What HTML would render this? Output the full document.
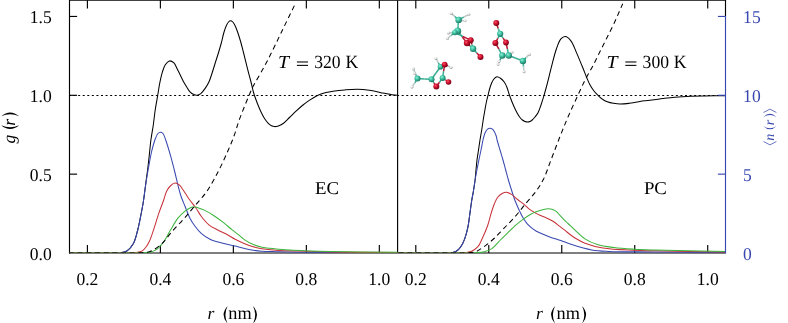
<!DOCTYPE html>
<html><head><meta charset="utf-8"><style>
html,body{margin:0;padding:0;background:#fff;}
body{width:788px;height:323px;overflow:hidden;font-family:"Liberation Serif",serif;}
svg{display:block;will-change:transform;text-rendering:geometricPrecision;}
</style></head><body>
<svg width="788" height="323" viewBox="0 0 788 323">
<defs><clipPath id="cl"><rect x="69.50" y="0.50" width="328.10" height="252.50"/></clipPath>
<clipPath id="cr"><rect x="397.60" y="0.50" width="327.90" height="252.50"/></clipPath></defs>
<line x1="69.50" y1="95.5" x2="397.60" y2="95.5" stroke="#000" stroke-width="1.05" stroke-dasharray="2 2.57" stroke-dashoffset="0.5"/>
<line x1="397.60" y1="95.5" x2="725.50" y2="95.5" stroke="#000" stroke-width="1.05" stroke-dasharray="2 2.57" stroke-dashoffset="0.5"/>
<g stroke="#000" stroke-width="1.15" fill="none">
<path d="M69.00 0.20 H726.00" />
<path d="M69.00 253.00 H725.50" />
<path d="M69.50 0.00 V253.50" />
<path d="M397.60 0.50 V253.00" />
<path d="M725.50 0.00 V16.40" />
<path d="M87.40 253.00 V245.00 M87.40 0.20 V8.40"/>
<path d="M415.80 253.00 V245.00 M415.80 0.20 V8.40"/>
<path d="M160.38 253.00 V245.00 M160.38 0.20 V8.40"/>
<path d="M488.78 253.00 V245.00 M488.78 0.20 V8.40"/>
<path d="M233.36 253.00 V245.00 M233.36 0.20 V8.40"/>
<path d="M561.76 253.00 V245.00 M561.76 0.20 V8.40"/>
<path d="M306.34 253.00 V245.00 M306.34 0.20 V8.40"/>
<path d="M634.74 253.00 V245.00 M634.74 0.20 V8.40"/>
<path d="M379.32 253.00 V245.00 M379.32 0.20 V8.40"/>
<path d="M707.72 253.00 V245.00 M707.72 0.20 V8.40"/>
<path d="M69.50 174.15 H77.10"/>
<path d="M69.50 95.30 H77.10"/>
<path d="M69.50 16.45 H77.10"/>
</g>
<g clip-path="url(#cl)" fill="none" stroke-width="1.05" stroke-linejoin="round">
<path d="M60.00 253.00 C77.33 253.00 102.55 253.13 112.00 253.00 C115.54 252.95 116.86 253.12 119.30 252.80 C121.82 252.47 124.65 252.36 126.90 251.00 C129.43 249.47 131.68 246.55 133.40 243.50 C135.42 239.92 136.45 234.77 137.60 230.50 C138.69 226.47 139.33 222.90 140.20 218.60 C141.23 213.53 142.44 207.31 143.30 202.00 C144.08 197.14 144.63 192.28 145.20 188.00 C145.68 184.39 146.08 181.15 146.50 178.00 C146.88 175.18 147.21 173.08 147.60 170.00 C148.13 165.78 148.75 160.00 149.30 155.00 C149.85 150.00 150.23 144.99 150.90 140.00 C151.57 134.99 152.58 130.01 153.30 125.00 C154.02 120.01 154.46 114.96 155.20 110.00 C155.93 105.09 156.91 100.08 157.70 95.40 C158.43 91.07 158.98 86.94 159.80 82.90 C160.59 79.05 161.46 74.95 162.50 71.70 C163.34 69.09 164.01 66.66 165.30 64.80 C166.43 63.16 168.01 61.16 169.50 60.90 C170.83 60.67 172.46 61.58 173.70 62.70 C175.41 64.24 176.44 67.50 177.90 70.30 C179.65 73.65 181.70 78.37 183.40 81.50 C184.67 83.84 185.83 85.67 187.00 87.50 C188.02 89.10 188.82 90.69 190.00 91.90 C191.11 93.03 192.51 94.04 193.80 94.60 C194.91 95.09 196.07 95.43 197.20 95.30 C198.41 95.16 199.66 94.47 200.80 93.60 C202.22 92.51 203.53 90.68 204.80 88.90 C206.25 86.87 207.72 84.52 208.90 82.00 C210.19 79.26 211.07 76.09 212.10 73.00 C213.18 69.77 214.15 66.33 215.20 63.00 C216.25 59.66 217.38 56.34 218.40 53.00 C219.41 49.67 220.39 46.38 221.30 43.00 C222.23 39.55 222.96 35.63 223.90 32.50 C224.68 29.91 225.50 27.40 226.40 25.50 C227.06 24.09 227.69 22.82 228.50 22.00 C229.13 21.36 229.89 20.71 230.60 20.70 C231.32 20.69 232.14 21.35 232.80 22.00 C233.64 22.82 234.30 24.12 235.00 25.50 C235.92 27.30 236.75 29.61 237.60 32.00 C238.62 34.85 239.64 38.17 240.60 41.50 C241.65 45.14 242.50 48.69 243.60 53.00 C245.01 58.52 246.93 66.58 248.30 71.90 C249.30 75.79 250.12 78.56 251.00 82.00 C251.92 85.58 252.64 89.45 253.70 93.00 C254.72 96.44 255.97 99.82 257.20 103.00 C258.35 105.97 259.53 108.83 260.80 111.50 C261.97 113.97 263.16 116.44 264.50 118.50 C265.68 120.31 267.01 122.02 268.30 123.30 C269.35 124.34 270.38 125.25 271.50 125.80 C272.49 126.29 273.52 126.55 274.60 126.60 C275.77 126.65 277.04 126.40 278.30 126.00 C279.76 125.54 281.24 124.88 282.80 123.80 C284.92 122.34 287.29 119.61 289.50 117.50 C291.69 115.41 293.77 113.27 296.00 111.20 C298.27 109.10 300.62 106.91 303.00 105.00 C305.29 103.16 307.68 101.44 310.00 99.90 C312.17 98.46 314.50 97.02 316.50 96.00 C318.11 95.18 319.44 94.66 321.00 94.10 C322.61 93.52 324.18 93.04 326.00 92.60 C328.12 92.09 330.36 91.70 333.00 91.30 C336.42 90.78 340.82 90.25 344.80 89.90 C348.85 89.54 352.99 89.14 357.10 89.20 C361.23 89.27 365.38 89.69 369.50 90.30 C373.65 90.92 377.99 92.14 381.90 92.90 C385.38 93.58 388.93 94.29 391.80 94.70 C393.98 95.01 395.55 95.17 397.60 95.30 C399.91 95.45 402.53 95.43 405.00 95.50" stroke="#000"/>
<path d="M60.00 253.00 C77.33 253.00 102.55 253.13 112.00 253.00 C115.54 252.95 116.86 253.12 119.30 252.80 C121.82 252.47 124.65 252.36 126.90 251.00 C129.43 249.47 131.68 246.55 133.40 243.50 C135.42 239.92 136.45 234.77 137.60 230.50 C138.69 226.47 139.33 222.90 140.20 218.60 C141.23 213.53 142.44 207.31 143.30 202.00 C144.08 197.14 144.54 192.58 145.20 188.00 C145.84 183.58 146.52 179.05 147.20 175.00 C147.79 171.44 148.34 168.55 149.00 165.00 C149.75 160.95 150.50 156.23 151.50 152.00 C152.47 147.90 153.66 143.35 154.90 140.00 C155.84 137.46 156.72 134.76 157.90 133.50 C158.63 132.72 159.47 132.22 160.30 132.20 C161.17 132.18 162.22 132.68 163.00 133.50 C164.19 134.76 164.73 137.31 165.70 140.00 C167.23 144.23 169.31 151.35 170.80 156.60 C172.13 161.29 172.98 164.84 174.30 170.00 C176.11 177.04 178.47 188.37 180.60 195.00 C182.05 199.53 183.49 202.42 185.00 206.20 C186.55 210.09 188.00 214.48 189.80 218.00 C191.38 221.09 193.07 223.72 195.00 226.30 C196.88 228.82 198.77 231.18 201.20 233.30 C203.86 235.62 207.05 237.86 210.50 239.50 C214.22 241.26 218.75 242.19 222.90 243.30 C226.99 244.39 231.37 245.18 235.20 246.10 C238.58 246.91 241.60 247.79 244.70 248.50 C247.63 249.18 250.41 249.85 253.30 250.30 C256.18 250.75 258.75 250.97 262.00 251.20 C266.11 251.49 270.71 251.54 276.00 251.70 C282.93 251.91 289.30 252.14 300.00 252.30 C321.57 252.61 383.55 252.67 397.60 252.70 C401.47 252.71 402.53 252.70 405.00 252.70" stroke="#3848b0"/>
<path d="M60.00 253.00 C82.67 253.00 116.42 253.29 128.00 253.00 C131.97 252.90 133.51 252.99 136.00 252.60 C138.25 252.25 140.59 251.92 142.30 250.90 C143.85 249.97 144.87 248.47 146.00 247.00 C147.22 245.40 148.22 243.85 149.30 241.60 C150.88 238.30 152.40 233.24 153.90 228.80 C155.51 224.04 156.94 218.76 158.60 213.90 C160.21 209.17 162.28 204.08 163.70 200.00 C164.80 196.83 165.28 193.95 166.50 191.50 C167.55 189.38 168.82 187.45 170.30 186.00 C171.63 184.69 173.28 183.17 174.80 183.00 C176.18 182.84 177.73 183.67 179.00 184.60 C180.52 185.72 181.58 187.71 183.00 189.70 C184.85 192.30 186.87 196.00 189.00 199.00 C191.13 202.00 193.73 204.75 195.80 207.70 C197.78 210.52 199.10 213.53 201.20 216.30 C203.43 219.24 206.01 222.46 208.90 224.80 C211.70 227.06 215.07 228.52 218.20 230.20 C221.27 231.85 224.57 233.22 227.50 234.80 C230.21 236.26 232.47 237.86 235.20 239.30 C238.17 240.87 241.58 242.52 244.70 243.80 C247.61 244.99 250.40 245.98 253.30 246.80 C256.17 247.61 258.74 248.17 262.00 248.70 C266.10 249.37 271.07 249.84 276.00 250.20 C281.50 250.60 286.61 250.66 293.50 250.90 C303.45 251.25 315.97 251.73 330.00 252.00 C349.09 252.37 386.40 252.55 397.60 252.60 C401.31 252.62 402.53 252.60 405.00 252.60" stroke="#c8323a"/>
<path d="M60.00 253.00 C85.00 253.00 122.69 253.15 135.00 253.00 C139.02 252.95 140.42 252.92 143.00 252.80 C145.41 252.68 147.69 252.89 150.00 252.30 C152.49 251.66 155.17 250.56 157.40 248.90 C159.85 247.07 161.86 244.33 163.90 241.50 C166.24 238.25 168.13 234.09 170.40 230.30 C172.78 226.33 175.20 221.61 177.90 218.20 C180.22 215.28 183.01 212.61 185.30 210.80 C186.96 209.49 188.57 208.52 190.00 207.90 C191.07 207.44 191.99 207.20 193.00 207.10 C193.99 207.00 194.94 207.11 196.00 207.30 C197.25 207.53 198.65 208.05 200.00 208.50 C201.42 208.97 202.63 209.31 204.30 210.10 C206.85 211.31 210.55 213.52 213.60 215.50 C216.75 217.54 220.37 220.24 222.90 222.20 C224.73 223.61 225.96 224.74 227.50 226.00 C229.05 227.27 230.54 228.49 232.20 229.80 C234.02 231.25 236.01 232.70 238.00 234.30 C240.17 236.05 242.24 238.22 244.70 239.90 C247.31 241.68 250.36 243.37 253.30 244.60 C256.13 245.78 258.72 246.52 262.00 247.20 C266.08 248.05 271.07 248.40 276.00 248.90 C281.50 249.45 286.60 249.91 293.50 250.30 C303.45 250.86 315.97 251.20 330.00 251.50 C349.09 251.91 386.40 252.14 397.60 252.20 C401.31 252.22 402.53 252.20 405.00 252.20" stroke="#3cb43c"/>
<path d="M60.00 253.00 C81.67 253.00 111.33 253.10 125.00 253.00 C131.30 252.95 134.45 253.08 138.80 252.80 C142.73 252.54 146.41 252.78 150.00 251.50 C153.90 250.10 157.69 247.38 161.20 244.30 C165.19 240.81 168.54 235.43 172.30 231.20 C175.98 227.07 179.87 223.28 183.50 219.20 C187.11 215.14 190.32 211.19 194.00 206.80 C198.14 201.86 203.07 196.84 207.10 191.00 C211.47 184.67 215.40 176.99 219.00 170.00 C222.44 163.32 225.64 156.10 228.30 150.00 C230.50 144.95 232.21 140.89 234.00 136.00 C235.92 130.76 237.21 125.51 239.40 119.50 C242.11 112.05 246.68 100.93 249.30 94.80 C250.88 91.10 251.68 89.17 253.30 86.00 C255.30 82.09 258.16 77.59 260.60 73.20 C263.16 68.60 265.48 64.48 268.30 59.00 C272.08 51.67 276.64 41.93 281.00 33.00 C285.63 23.53 290.53 13.47 295.30 3.70" stroke="#000" stroke-dasharray="5 3.7"/>
</g>
<g clip-path="url(#cr)" fill="none" stroke-width="1.05" stroke-linejoin="round">
<path d="M390.00 253.00 C406.67 253.00 429.07 253.14 440.00 253.00 C445.33 252.93 448.93 253.23 451.90 252.70 C453.76 252.37 454.92 252.06 456.30 251.20 C457.92 250.19 459.49 248.52 460.80 246.70 C462.32 244.60 463.50 241.95 464.60 239.10 C465.90 235.74 466.96 231.63 467.80 227.70 C468.68 223.61 469.06 219.41 469.70 215.00 C470.39 210.21 471.08 204.49 471.80 200.00 C472.39 196.32 473.05 193.34 473.60 190.00 C474.15 186.67 474.70 183.34 475.10 180.00 C475.50 176.67 475.68 173.33 476.00 170.00 C476.32 166.67 476.58 163.33 477.00 160.00 C477.42 156.66 478.00 153.33 478.50 150.00 C479.00 146.67 479.47 143.33 480.00 140.00 C480.53 136.66 481.17 133.34 481.70 130.00 C482.23 126.67 482.67 123.33 483.20 120.00 C483.73 116.66 484.32 113.24 484.90 110.00 C485.45 106.92 486.02 103.64 486.60 101.00 C487.06 98.91 487.46 97.50 488.00 95.40 C488.70 92.67 489.49 88.81 490.50 86.00 C491.37 83.59 492.24 81.12 493.50 79.50 C494.50 78.22 495.79 76.85 497.00 76.70 C498.13 76.56 499.37 77.51 500.50 78.30 C501.86 79.26 503.32 80.79 504.40 82.30 C505.50 83.84 506.22 85.59 507.00 87.50 C507.88 89.67 508.33 91.99 509.30 94.70 C510.60 98.34 512.76 103.86 514.30 107.30 C515.40 109.76 516.36 111.68 517.40 113.50 C518.26 115.01 519.09 116.36 520.00 117.50 C520.77 118.47 521.53 119.32 522.40 120.00 C523.21 120.63 524.11 121.17 525.00 121.50 C525.82 121.81 526.67 122.00 527.50 122.00 C528.33 122.00 529.22 121.83 530.00 121.50 C530.79 121.17 531.46 120.64 532.20 120.00 C533.12 119.21 534.09 118.10 535.00 117.00 C536.00 115.79 537.01 114.63 537.90 113.00 C539.07 110.85 540.03 107.75 541.00 105.00 C542.00 102.15 542.87 99.32 543.80 96.20 C544.84 92.70 545.78 89.24 546.90 85.00 C548.36 79.49 550.08 72.04 551.70 65.90 C553.22 60.14 554.56 54.04 556.30 49.20 C557.70 45.29 558.97 40.99 560.90 38.90 C562.19 37.50 563.78 36.38 565.30 36.50 C567.10 36.64 569.24 38.74 570.90 40.80 C573.19 43.64 574.74 48.71 576.60 52.90 C578.58 57.35 580.35 61.89 582.40 66.80 C584.72 72.34 587.57 80.22 589.80 84.50 C591.16 87.10 592.27 88.72 593.60 90.50 C594.78 92.08 595.78 93.24 597.30 94.70 C599.30 96.62 601.80 99.31 604.80 100.80 C608.24 102.51 612.96 103.39 617.10 103.80 C621.20 104.21 625.19 103.75 629.50 103.30 C634.25 102.81 640.62 101.32 644.40 100.80 C646.71 100.48 647.77 100.46 650.00 100.20 C653.32 99.81 658.26 99.10 662.40 98.60 C666.53 98.10 670.39 97.59 674.80 97.20 C679.81 96.76 685.71 96.42 690.90 96.20 C695.75 96.00 699.86 95.97 705.00 95.90 C711.20 95.82 719.96 95.81 725.50 95.80 C729.27 95.79 731.83 95.80 735.00 95.80" stroke="#000"/>
<path d="M390.00 253.00 C406.67 253.00 429.07 253.14 440.00 253.00 C445.33 252.93 448.93 253.23 451.90 252.70 C453.76 252.37 454.92 252.06 456.30 251.20 C457.92 250.19 459.49 248.52 460.80 246.70 C462.32 244.60 463.50 241.95 464.60 239.10 C465.90 235.74 466.96 231.63 467.80 227.70 C468.68 223.61 469.06 219.41 469.70 215.00 C470.39 210.21 471.08 204.49 471.80 200.00 C472.39 196.32 473.05 193.34 473.60 190.00 C474.15 186.67 474.55 183.33 475.10 180.00 C475.65 176.66 476.27 173.33 476.90 170.00 C477.53 166.66 478.22 163.33 478.90 160.00 C479.58 156.67 480.32 153.33 481.00 150.00 C481.68 146.67 482.42 142.58 483.00 140.00 C483.37 138.36 483.59 137.32 484.00 136.00 C484.42 134.65 484.87 133.18 485.50 132.00 C486.06 130.94 486.69 129.84 487.50 129.20 C488.22 128.64 489.17 128.20 490.00 128.20 C490.83 128.20 491.78 128.64 492.50 129.20 C493.31 129.84 493.91 130.95 494.50 132.00 C495.16 133.18 495.76 134.65 496.20 136.00 C496.62 137.31 496.68 138.37 497.10 140.00 C497.77 142.59 499.02 146.67 500.00 150.00 C500.98 153.34 502.05 156.66 503.00 160.00 C503.95 163.33 504.80 166.67 505.70 170.00 C506.60 173.33 507.44 176.68 508.40 180.00 C509.37 183.34 510.43 186.67 511.50 190.00 C512.57 193.34 513.55 196.69 514.80 200.00 C516.07 203.36 517.59 206.80 519.10 210.00 C520.53 213.05 522.07 216.33 523.60 218.80 C524.81 220.76 526.00 222.32 527.30 223.80 C528.48 225.15 529.63 226.25 531.00 227.40 C532.50 228.66 533.88 229.80 536.00 231.00 C539.16 232.79 544.31 234.79 548.50 236.40 C552.61 237.98 556.92 239.21 560.90 240.60 C564.63 241.91 567.52 243.18 571.70 244.50 C577.32 246.27 585.29 248.75 591.70 249.90 C597.47 250.93 601.43 251.04 608.40 251.40 C620.02 252.00 637.86 251.80 655.00 252.00 C676.08 252.24 712.88 252.64 725.50 252.70 C730.13 252.72 731.83 252.70 735.00 252.70" stroke="#3848b0"/>
<path d="M390.00 253.00 C411.67 253.00 442.71 253.18 455.00 253.00 C459.87 252.93 462.21 253.09 465.20 252.70 C467.60 252.39 469.56 252.12 471.60 251.20 C473.81 250.20 476.19 248.65 477.90 246.70 C479.71 244.64 480.60 241.94 482.00 239.00 C483.78 235.26 485.92 230.46 487.50 226.00 C489.10 221.47 490.20 216.07 491.50 212.00 C492.52 208.80 493.41 206.06 494.50 203.50 C495.44 201.29 496.19 199.19 497.50 197.50 C498.75 195.89 500.49 194.39 502.10 193.50 C503.48 192.74 504.92 192.12 506.40 192.20 C508.04 192.29 509.81 193.35 511.50 194.40 C513.51 195.65 515.41 197.83 517.50 199.50 C519.67 201.23 522.17 202.85 524.30 204.60 C526.32 206.26 527.98 208.22 530.00 209.70 C531.96 211.14 534.37 212.40 536.20 213.40 C537.60 214.17 538.55 214.64 540.00 215.30 C541.86 216.15 544.35 217.01 546.50 218.00 C548.69 219.01 550.89 219.98 553.00 221.30 C555.23 222.69 557.43 224.63 559.50 226.20 C561.41 227.65 563.22 228.99 565.00 230.40 C566.72 231.76 568.31 233.22 570.00 234.50 C571.64 235.75 573.00 236.79 575.00 238.00 C577.72 239.65 581.09 241.68 585.00 243.20 C590.02 245.15 596.05 246.84 602.90 248.00 C611.78 249.51 624.64 249.84 634.00 250.30 C641.68 250.68 645.94 250.62 655.00 250.80 C671.59 251.14 712.88 251.89 725.50 252.00 C730.13 252.04 731.83 252.00 735.00 252.00" stroke="#c8323a"/>
<path d="M390.00 253.00 C415.00 253.00 451.43 253.20 465.00 253.00 C470.05 252.93 472.07 252.92 475.40 252.70 C478.49 252.50 481.50 252.51 484.30 251.80 C486.99 251.11 489.45 250.25 491.90 248.60 C494.86 246.60 497.64 242.74 500.40 240.00 C502.97 237.45 505.44 235.09 507.90 232.70 C510.27 230.39 512.41 228.11 514.90 225.90 C517.52 223.57 520.53 221.12 523.30 219.10 C525.82 217.26 528.55 215.45 530.80 214.20 C532.51 213.25 533.93 212.64 535.50 212.00 C537.00 211.38 538.49 210.87 540.00 210.40 C541.49 209.94 543.01 209.47 544.50 209.20 C545.91 208.95 547.39 208.76 548.70 208.80 C549.87 208.83 550.99 209.01 552.00 209.30 C552.91 209.56 553.69 209.94 554.50 210.40 C555.36 210.89 556.20 211.50 557.00 212.20 C557.87 212.95 558.56 213.79 559.50 214.80 C560.77 216.17 562.42 218.20 563.90 219.70 C565.26 221.08 566.46 222.05 568.00 223.50 C570.03 225.41 572.43 227.85 575.00 230.20 C578.01 232.94 581.31 236.51 585.00 238.90 C588.73 241.32 592.79 243.17 597.30 244.60 C602.35 246.19 608.16 246.84 614.00 247.60 C620.35 248.42 627.25 248.80 634.00 249.20 C640.91 249.61 645.94 249.73 655.00 250.00 C671.59 250.49 712.88 251.37 725.50 251.50 C730.13 251.55 731.83 251.50 735.00 251.50" stroke="#3cb43c"/>
<path d="M390.00 253.00 C411.67 253.00 442.79 253.06 455.00 253.00 C459.79 252.98 461.64 253.09 465.00 252.90 C468.44 252.70 472.45 252.75 475.40 251.80 C477.86 251.01 479.63 249.53 481.70 248.20 C483.86 246.81 486.01 245.26 488.10 243.60 C490.28 241.87 492.26 240.12 494.50 238.00 C497.18 235.46 499.92 232.49 503.00 229.30 C506.71 225.45 511.38 220.84 515.20 216.50 C518.89 212.31 522.10 207.95 525.60 203.70 C529.10 199.45 533.11 195.29 536.20 191.00 C539.05 187.04 541.35 183.52 543.60 179.00 C546.23 173.71 548.13 167.40 550.60 161.00 C553.42 153.69 556.61 145.05 559.60 137.50 C562.41 130.42 565.03 123.88 568.00 117.00 C571.06 109.92 574.66 102.16 577.70 95.60 C580.31 89.98 582.49 85.11 585.10 80.00 C587.69 74.91 590.75 69.89 593.30 65.00 C595.69 60.41 597.75 56.00 600.00 51.50 C602.25 47.00 604.45 42.73 606.80 38.00 C609.39 32.78 612.28 27.13 614.90 21.50 C617.59 15.71 620.10 9.63 622.70 3.70" stroke="#000" stroke-dasharray="5 3.7"/>
</g>
<g stroke="#3848b0" stroke-width="1.15" fill="none">
<path d="M725.50 16.4 V253.50"/>
<path d="M725.50 174.15 H717.90"/>
<path d="M725.50 95.30 H717.90"/>
<path d="M725.50 16.45 H717.90"/>
</g>
<defs>
<radialGradient id="gC" cx="0.38" cy="0.35" r="0.7"><stop offset="0" stop-color="#8ff0d8"/><stop offset="0.45" stop-color="#3cc0a0"/><stop offset="1" stop-color="#1a6e5c"/></radialGradient>
<radialGradient id="gO" cx="0.38" cy="0.35" r="0.7"><stop offset="0" stop-color="#ff5060"/><stop offset="0.45" stop-color="#cc1030"/><stop offset="1" stop-color="#6a0010"/></radialGradient>
<radialGradient id="gH" cx="0.38" cy="0.35" r="0.7"><stop offset="0" stop-color="#ffffff"/><stop offset="0.5" stop-color="#e0e0e0"/><stop offset="1" stop-color="#8a8a8a"/></radialGradient>
</defs><g><line x1="417.5" y1="78.6" x2="415.4" y2="73.7" stroke="#3aae94" stroke-width="1.5"/>
<line x1="415.4" y1="73.7" x2="413.4" y2="68.8" stroke="#b8c8c4" stroke-width="1.5"/>
<line x1="417.5" y1="78.6" x2="416.1" y2="76.0" stroke="#3aae94" stroke-width="1.5"/>
<line x1="416.1" y1="76.0" x2="414.7" y2="73.5" stroke="#b8c8c4" stroke-width="1.5"/>
<line x1="417.5" y1="78.6" x2="414.8" y2="82.8" stroke="#3aae94" stroke-width="1.5"/>
<line x1="414.8" y1="82.8" x2="412.0" y2="86.9" stroke="#b8c8c4" stroke-width="1.5"/>
<line x1="417.5" y1="78.6" x2="424.5" y2="78.9" stroke="#3aae94" stroke-width="1.5"/>
<line x1="424.5" y1="78.9" x2="431.5" y2="79.2" stroke="#3aae94" stroke-width="1.5"/>
<line x1="431.5" y1="79.2" x2="433.9" y2="82.8" stroke="#3aae94" stroke-width="1.5"/>
<line x1="433.9" y1="82.8" x2="436.3" y2="86.5" stroke="#b81830" stroke-width="1.5"/>
<line x1="436.3" y1="86.5" x2="439.5" y2="82.2" stroke="#b81830" stroke-width="1.5"/>
<line x1="439.5" y1="82.2" x2="442.6" y2="77.9" stroke="#3aae94" stroke-width="1.5"/>
<line x1="442.6" y1="77.9" x2="445.6" y2="80.0" stroke="#3aae94" stroke-width="1.5"/>
<line x1="445.6" y1="80.0" x2="448.5" y2="82.0" stroke="#b81830" stroke-width="1.5"/>
<line x1="442.6" y1="77.9" x2="443.6" y2="71.2" stroke="#3aae94" stroke-width="1.5"/>
<line x1="443.6" y1="71.2" x2="444.7" y2="64.6" stroke="#b81830" stroke-width="1.5"/>
<line x1="431.5" y1="79.2" x2="436.0" y2="73.0" stroke="#3aae94" stroke-width="1.5"/>
<line x1="436.0" y1="73.0" x2="440.5" y2="66.7" stroke="#3aae94" stroke-width="1.5"/>
<line x1="440.5" y1="66.7" x2="442.6" y2="65.7" stroke="#3aae94" stroke-width="1.5"/>
<line x1="442.6" y1="65.7" x2="444.7" y2="64.6" stroke="#b81830" stroke-width="1.5"/>
<line x1="440.5" y1="66.7" x2="438.2" y2="62.5" stroke="#3aae94" stroke-width="1.5"/>
<line x1="438.2" y1="62.5" x2="435.9" y2="58.4" stroke="#b8c8c4" stroke-width="1.5"/>
<line x1="444.7" y1="64.6" x2="447.9" y2="66.0" stroke="#b81830" stroke-width="1.5"/>
<line x1="447.9" y1="66.0" x2="451.0" y2="67.4" stroke="#b8c8c4" stroke-width="1.5"/>
<circle cx="417.5" cy="78.6" r="3.0" fill="url(#gC)"/>
<circle cx="413.4" cy="68.8" r="1.5" fill="url(#gH)"/>
<circle cx="414.7" cy="73.5" r="1.4" fill="url(#gH)"/>
<circle cx="412.0" cy="86.9" r="1.5" fill="url(#gH)"/>
<circle cx="431.5" cy="79.2" r="3.0" fill="url(#gC)"/>
<circle cx="436.3" cy="86.5" r="3.0" fill="url(#gO)"/>
<circle cx="442.6" cy="77.9" r="3.0" fill="url(#gC)"/>
<circle cx="448.5" cy="82.0" r="2.8" fill="url(#gO)"/>
<circle cx="440.5" cy="66.7" r="2.8" fill="url(#gC)"/>
<circle cx="444.7" cy="64.6" r="2.9" fill="url(#gO)"/>
<circle cx="435.9" cy="58.4" r="1.5" fill="url(#gH)"/>
<circle cx="451.0" cy="67.4" r="1.5" fill="url(#gH)"/><line x1="451.2" y1="13.4" x2="454.9" y2="16.6" stroke="#b8c8c4" stroke-width="1.5"/>
<line x1="454.9" y1="16.6" x2="458.6" y2="19.9" stroke="#3aae94" stroke-width="1.5"/>
<line x1="468.8" y1="14.3" x2="463.7" y2="17.1" stroke="#b8c8c4" stroke-width="1.5"/>
<line x1="463.7" y1="17.1" x2="458.6" y2="19.9" stroke="#3aae94" stroke-width="1.5"/>
<line x1="465.1" y1="20.8" x2="461.9" y2="20.4" stroke="#b8c8c4" stroke-width="1.5"/>
<line x1="461.9" y1="20.4" x2="458.6" y2="19.9" stroke="#3aae94" stroke-width="1.5"/>
<line x1="458.6" y1="19.9" x2="458.1" y2="25.4" stroke="#3aae94" stroke-width="1.5"/>
<line x1="458.1" y1="25.4" x2="457.7" y2="31.0" stroke="#3aae94" stroke-width="1.5"/>
<line x1="457.7" y1="31.0" x2="456.3" y2="31.8" stroke="#3aae94" stroke-width="1.5"/>
<line x1="456.3" y1="31.8" x2="454.9" y2="32.5" stroke="#3aae94" stroke-width="1.5"/>
<line x1="454.9" y1="32.5" x2="451.6" y2="32.7" stroke="#3aae94" stroke-width="1.5"/>
<line x1="451.6" y1="32.7" x2="448.4" y2="32.9" stroke="#b8c8c4" stroke-width="1.5"/>
<line x1="454.9" y1="32.5" x2="451.1" y2="35.5" stroke="#3aae94" stroke-width="1.5"/>
<line x1="451.1" y1="35.5" x2="447.4" y2="38.5" stroke="#b8c8c4" stroke-width="1.5"/>
<line x1="457.7" y1="31.0" x2="462.4" y2="37.0" stroke="#3aae94" stroke-width="1.5"/>
<line x1="462.4" y1="37.0" x2="467.0" y2="43.1" stroke="#b81830" stroke-width="1.5"/>
<line x1="454.9" y1="32.5" x2="462.8" y2="36.4" stroke="#3aae94" stroke-width="1.5"/>
<line x1="462.8" y1="36.4" x2="470.7" y2="40.3" stroke="#b81830" stroke-width="1.5"/>
<line x1="467.0" y1="43.1" x2="470.1" y2="45.9" stroke="#b81830" stroke-width="1.5"/>
<line x1="470.1" y1="45.9" x2="473.1" y2="48.7" stroke="#3aae94" stroke-width="1.5"/>
<line x1="470.7" y1="40.3" x2="471.9" y2="44.5" stroke="#b81830" stroke-width="1.5"/>
<line x1="471.9" y1="44.5" x2="473.1" y2="48.7" stroke="#3aae94" stroke-width="1.5"/>
<line x1="473.1" y1="48.7" x2="476.8" y2="52.9" stroke="#3aae94" stroke-width="1.5"/>
<line x1="476.8" y1="52.9" x2="480.5" y2="57.0" stroke="#b81830" stroke-width="1.5"/>
<circle cx="451.2" cy="13.4" r="1.5" fill="url(#gH)"/>
<circle cx="468.8" cy="14.3" r="1.5" fill="url(#gH)"/>
<circle cx="458.6" cy="19.9" r="3.2" fill="url(#gC)"/>
<circle cx="465.1" cy="20.8" r="1.4" fill="url(#gH)"/>
<circle cx="457.7" cy="31.0" r="3.5" fill="url(#gC)"/>
<circle cx="454.9" cy="32.5" r="2.8" fill="url(#gC)"/>
<circle cx="448.4" cy="32.9" r="1.5" fill="url(#gH)"/>
<circle cx="447.4" cy="38.5" r="1.5" fill="url(#gH)"/>
<circle cx="467.0" cy="43.1" r="3.2" fill="url(#gO)"/>
<circle cx="470.7" cy="40.3" r="3.0" fill="url(#gO)"/>
<circle cx="473.1" cy="48.7" r="3.2" fill="url(#gC)"/>
<circle cx="480.5" cy="57.0" r="3.0" fill="url(#gO)"/><line x1="496.3" y1="23.0" x2="498.2" y2="28.4" stroke="#b81830" stroke-width="1.5"/>
<line x1="498.2" y1="28.4" x2="500.2" y2="33.8" stroke="#3aae94" stroke-width="1.5"/>
<line x1="500.2" y1="33.8" x2="497.8" y2="38.3" stroke="#3aae94" stroke-width="1.5"/>
<line x1="497.8" y1="38.3" x2="495.4" y2="42.9" stroke="#b81830" stroke-width="1.5"/>
<line x1="500.2" y1="33.8" x2="503.1" y2="38.1" stroke="#3aae94" stroke-width="1.5"/>
<line x1="503.1" y1="38.1" x2="506.0" y2="42.5" stroke="#b81830" stroke-width="1.5"/>
<line x1="495.4" y1="42.9" x2="498.9" y2="49.2" stroke="#b81830" stroke-width="1.5"/>
<line x1="498.9" y1="49.2" x2="502.3" y2="55.5" stroke="#3aae94" stroke-width="1.5"/>
<line x1="506.0" y1="42.5" x2="507.4" y2="49.0" stroke="#b81830" stroke-width="1.5"/>
<line x1="507.4" y1="49.0" x2="508.8" y2="55.5" stroke="#3aae94" stroke-width="1.5"/>
<line x1="502.3" y1="55.5" x2="505.6" y2="55.5" stroke="#3aae94" stroke-width="1.5"/>
<line x1="505.6" y1="55.5" x2="508.8" y2="55.5" stroke="#3aae94" stroke-width="1.5"/>
<line x1="508.8" y1="55.5" x2="510.4" y2="53.9" stroke="#3aae94" stroke-width="1.5"/>
<line x1="510.4" y1="53.9" x2="512.0" y2="52.2" stroke="#b8c8c4" stroke-width="1.5"/>
<line x1="502.3" y1="55.5" x2="500.6" y2="58.5" stroke="#3aae94" stroke-width="1.5"/>
<line x1="500.6" y1="58.5" x2="499.0" y2="61.5" stroke="#b8c8c4" stroke-width="1.5"/>
<line x1="502.3" y1="55.5" x2="500.1" y2="60.0" stroke="#3aae94" stroke-width="1.5"/>
<line x1="500.1" y1="60.0" x2="498.0" y2="64.5" stroke="#b8c8c4" stroke-width="1.5"/>
<line x1="508.8" y1="55.5" x2="515.9" y2="58.2" stroke="#3aae94" stroke-width="1.5"/>
<line x1="515.9" y1="58.2" x2="522.9" y2="60.9" stroke="#3aae94" stroke-width="1.5"/>
<line x1="522.9" y1="60.9" x2="526.1" y2="57.6" stroke="#3aae94" stroke-width="1.5"/>
<line x1="526.1" y1="57.6" x2="529.4" y2="54.4" stroke="#b8c8c4" stroke-width="1.5"/>
<line x1="522.9" y1="60.9" x2="523.5" y2="66.3" stroke="#3aae94" stroke-width="1.5"/>
<line x1="523.5" y1="66.3" x2="524.0" y2="71.7" stroke="#b8c8c4" stroke-width="1.5"/>
<circle cx="496.3" cy="23.0" r="3.0" fill="url(#gO)"/>
<circle cx="500.2" cy="33.8" r="3.1" fill="url(#gC)"/>
<circle cx="495.4" cy="42.9" r="3.0" fill="url(#gO)"/>
<circle cx="506.0" cy="42.5" r="2.9" fill="url(#gO)"/>
<circle cx="502.3" cy="55.5" r="3.2" fill="url(#gC)"/>
<circle cx="508.8" cy="55.5" r="3.2" fill="url(#gC)"/>
<circle cx="512.0" cy="52.2" r="1.4" fill="url(#gH)"/>
<circle cx="499.0" cy="61.5" r="1.4" fill="url(#gH)"/>
<circle cx="498.0" cy="64.5" r="1.4" fill="url(#gH)"/>
<circle cx="522.9" cy="60.9" r="3.2" fill="url(#gC)"/>
<circle cx="529.4" cy="54.4" r="1.5" fill="url(#gH)"/>
<circle cx="524.0" cy="71.7" r="1.5" fill="url(#gH)"/></g>
<g font-family="Liberation Serif, serif" font-size="17.60">
<text transform="translate(87.40 284.80) scale(0.970 1)" font-size="18.1" text-anchor="middle" fill="#000" >0.2</text>
<text transform="translate(415.80 284.80) scale(0.970 1)" font-size="18.1" text-anchor="middle" fill="#000" >0.2</text>
<text transform="translate(160.38 284.80) scale(0.970 1)" font-size="18.1" text-anchor="middle" fill="#000" >0.4</text>
<text transform="translate(488.78 284.80) scale(0.970 1)" font-size="18.1" text-anchor="middle" fill="#000" >0.4</text>
<text transform="translate(233.36 284.80) scale(0.970 1)" font-size="18.1" text-anchor="middle" fill="#000" >0.6</text>
<text transform="translate(561.76 284.80) scale(0.970 1)" font-size="18.1" text-anchor="middle" fill="#000" >0.6</text>
<text transform="translate(306.34 284.80) scale(0.970 1)" font-size="18.1" text-anchor="middle" fill="#000" >0.8</text>
<text transform="translate(634.74 284.80) scale(0.970 1)" font-size="18.1" text-anchor="middle" fill="#000" >0.8</text>
<text transform="translate(379.32 284.80) scale(0.970 1)" font-size="18.1" text-anchor="middle" fill="#000" >1.0</text>
<text transform="translate(707.72 284.80) scale(0.970 1)" font-size="18.1" text-anchor="middle" fill="#000" >1.0</text>
<text transform="translate(51.70 260.00) scale(0.970 1)" font-size="18.1" text-anchor="end" fill="#000" >0.0</text>
<text transform="translate(51.70 181.15) scale(0.970 1)" font-size="18.1" text-anchor="end" fill="#000" >0.5</text>
<text transform="translate(51.70 102.30) scale(0.970 1)" font-size="18.1" text-anchor="end" fill="#000" >1.0</text>
<text transform="translate(51.70 23.45) scale(0.970 1)" font-size="18.1" text-anchor="end" fill="#000" >1.5</text>
<text transform="translate(743.10 259.80) scale(0.970 1)" font-size="18.1" text-anchor="start" fill="#3848b0" >0</text>
<text transform="translate(743.10 180.95) scale(0.970 1)" font-size="18.1" text-anchor="start" fill="#3848b0" >5</text>
<text transform="translate(743.10 102.10) scale(0.970 1)" font-size="18.1" text-anchor="start" fill="#3848b0" >10</text>
<text transform="translate(743.10 23.25) scale(0.970 1)" font-size="18.1" text-anchor="start" fill="#3848b0" >15</text>
<text transform="translate(278.00 68.0) scale(1.08 1)" font-style="italic" font-size="18.4">T</text>
<rect x="296.90" y="61.45" width="11.1" height="1.05" fill="#000"/>
<rect x="296.90" y="64.85" width="11.1" height="1.05" fill="#000"/>
<text transform="translate(314.20 68.3) scale(0.946 1)" font-size="18.6">320</text>
<text transform="translate(345.40 68.3) scale(0.95 1)" font-size="18.6">K</text>
<text transform="translate(606.40 68.0) scale(1.08 1)" font-style="italic" font-size="18.4">T</text>
<rect x="625.30" y="61.45" width="11.1" height="1.05" fill="#000"/>
<rect x="625.30" y="64.85" width="11.1" height="1.05" fill="#000"/>
<text transform="translate(642.60 68.3) scale(0.946 1)" font-size="18.6">300</text>
<text transform="translate(673.80 68.3) scale(0.95 1)" font-size="18.6">K</text>
<text transform="translate(327.1 194.2) scale(1.04 1)" font-size="18.1" text-anchor="middle">EC</text>
<text transform="translate(655.4 194.4) scale(1.04 1)" font-size="18.1" text-anchor="middle">PC</text>
<text x="207.60" y="319" font-style="italic">r</text>
<path d="M227.60 306.00 Q219.60 314.80 227.60 323.60 Q223.20 314.80 227.60 306.00 Z" fill="#000"/>
<text x="228.30" y="319" font-size="18.3">nm</text>
<path d="M253.00 306.00 Q261.00 314.80 253.00 323.60 Q257.40 314.80 253.00 306.00 Z" fill="#000"/>
<text x="535.90" y="319" font-style="italic">r</text>
<path d="M555.10 306.00 Q547.10 314.80 555.10 323.60 Q550.70 314.80 555.10 306.00 Z" fill="#000"/>
<text x="556.60" y="319" font-size="18.3">nm</text>
<path d="M582.10 306.00 Q590.10 314.80 582.10 323.60 Q586.50 314.80 582.10 306.00 Z" fill="#000"/>
<g transform="translate(14.9 142.9) rotate(-90)">
<text x="-0.6" y="0" font-style="italic">g</text>
<path d="M17.60 -13.80 Q10.00 -4.75 17.60 4.30 Q13.60 -4.75 17.60 -13.80 Z" fill="#000"/>
<text x="17.2" y="0" font-style="italic">r</text>
<path d="M26.60 -13.80 Q34.20 -4.75 26.60 4.30 Q30.60 -4.75 26.60 -13.80 Z" fill="#000"/>
</g>
<g transform="translate(773.7 145.1) rotate(-90)" fill="#3848b0">
<path d="M3.6 -10.2 L0.2 -3.75 L3.6 2.7" fill="none" stroke="#3848b0" stroke-width="0.75"/>
<text x="4.3" y="0" font-style="italic" font-size="14">n</text>
<path d="M19.20 -10.40 Q12.40 -3.80 19.20 2.80 Q14.60 -3.80 19.20 -10.40 Z" fill="#3848b0"/>
<text x="19.8" y="0" font-style="italic" font-size="14">r</text>
<path d="M27.90 -10.40 Q34.70 -3.80 27.90 2.80 Q32.50 -3.80 27.90 -10.40 Z" fill="#3848b0"/>
<path d="M32.6 -10.2 L36 -3.75 L32.6 2.7" fill="none" stroke="#3848b0" stroke-width="0.75"/>
</g>
</g>
</svg>
</body></html>
